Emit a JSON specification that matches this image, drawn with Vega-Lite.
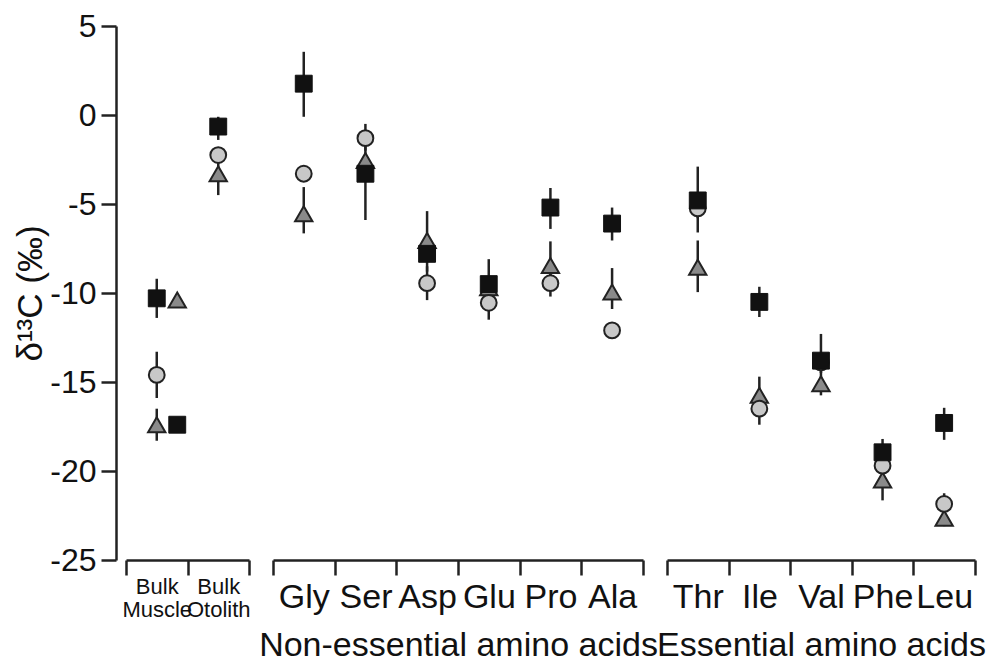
{
  "$schema": "https://vega.github.io/schema/vega-lite/v6.json",
  "padding": {"left": 13, "top": 10, "right": 5, "bottom": 5},
  "bounds": "flush",
  "spacing": 24,
  "background": "white",
  "config": {
    "view": {"stroke": null},
    "font": "Liberation Sans",
    "axis": {"labelFont": "Liberation Sans", "titleFont": "Liberation Sans", "labelColor": "#111", "titleColor": "#111", "domainColor": "#222", "tickColor": "#222", "titleFontWeight": "normal", "grid": false, "domainWidth": 2.5, "tickWidth": 2.5}
  },
  "data": {"values": [
    {"g": "a", "cat": "Bulk Muscle", "s": "sq", "slot": "c", "v": -10.3, "lo": -11.4, "hi": -9.2},
    {"g": "a", "cat": "Bulk Muscle", "s": "tr", "slot": "r", "v": -10.4, "lo": null, "hi": null},
    {"g": "a", "cat": "Bulk Muscle", "s": "ci", "slot": "c", "v": -14.6, "lo": -15.9, "hi": -13.3},
    {"g": "a", "cat": "Bulk Muscle", "s": "tr", "slot": "c", "v": -17.4, "lo": -18.3, "hi": -16.5},
    {"g": "a", "cat": "Bulk Muscle", "s": "sq", "slot": "r", "v": -17.4, "lo": null, "hi": null},
    {"g": "a", "cat": "Bulk Otolith", "s": "sq", "slot": "c", "v": -0.65, "lo": -1.4, "hi": -0.1},
    {"g": "a", "cat": "Bulk Otolith", "s": "ci", "slot": "c", "v": -2.25, "lo": null, "hi": null},
    {"g": "a", "cat": "Bulk Otolith", "s": "tr", "slot": "c", "v": -3.3, "lo": -4.5, "hi": -2.6},
    {"g": "b", "cat": "Gly", "s": "sq", "slot": "c", "v": 1.76, "lo": -0.1, "hi": 3.55},
    {"g": "b", "cat": "Gly", "s": "ci", "slot": "c", "v": -3.3, "lo": null, "hi": null},
    {"g": "b", "cat": "Gly", "s": "tr", "slot": "c", "v": -5.55, "lo": -6.65, "hi": -4.05},
    {"g": "b", "cat": "Ser", "s": "ci", "slot": "c", "v": -1.3, "lo": -2.0, "hi": -0.5},
    {"g": "b", "cat": "Ser", "s": "tr", "slot": "c", "v": -2.55, "lo": null, "hi": null},
    {"g": "b", "cat": "Ser", "s": "sq", "slot": "c", "v": -3.3, "lo": -5.9, "hi": -1.5},
    {"g": "b", "cat": "Asp", "s": "tr", "slot": "c", "v": -7.05, "lo": -8.0, "hi": -5.4},
    {"g": "b", "cat": "Asp", "s": "sq", "slot": "c", "v": -7.8, "lo": -8.8, "hi": -6.8},
    {"g": "b", "cat": "Asp", "s": "ci", "slot": "c", "v": -9.45, "lo": -10.4, "hi": -8.5},
    {"g": "b", "cat": "Glu", "s": "sq", "slot": "c", "v": -9.5, "lo": -10.5, "hi": -8.1},
    {"g": "b", "cat": "Glu", "s": "ci", "slot": "c", "v": -10.55, "lo": -11.5, "hi": -9.6},
    {"g": "b", "cat": "Glu", "s": "tr", "slot": "c", "v": -9.7, "lo": null, "hi": null},
    {"g": "b", "cat": "Pro", "s": "sq", "slot": "c", "v": -5.2, "lo": -6.4, "hi": -4.1},
    {"g": "b", "cat": "Pro", "s": "tr", "slot": "c", "v": -8.45, "lo": -9.2, "hi": -7.1},
    {"g": "b", "cat": "Pro", "s": "ci", "slot": "c", "v": -9.45, "lo": -10.2, "hi": -8.7},
    {"g": "b", "cat": "Ala", "s": "sq", "slot": "c", "v": -6.1, "lo": -7.05, "hi": -5.2},
    {"g": "b", "cat": "Ala", "s": "tr", "slot": "c", "v": -9.95, "lo": -10.9, "hi": -8.6},
    {"g": "b", "cat": "Ala", "s": "ci", "slot": "c", "v": -12.1, "lo": null, "hi": null},
    {"g": "c", "cat": "Thr", "s": "sq", "slot": "c", "v": -4.8, "lo": -5.8, "hi": -2.9},
    {"g": "c", "cat": "Thr", "s": "ci", "slot": "c", "v": -5.25, "lo": -6.6, "hi": -4.5},
    {"g": "c", "cat": "Thr", "s": "tr", "slot": "c", "v": -8.55, "lo": -9.95, "hi": -7.05},
    {"g": "c", "cat": "Ile", "s": "sq", "slot": "c", "v": -10.5, "lo": -11.35, "hi": -9.65},
    {"g": "c", "cat": "Ile", "s": "tr", "slot": "c", "v": -15.75, "lo": -16.5, "hi": -14.7},
    {"g": "c", "cat": "Ile", "s": "ci", "slot": "c", "v": -16.5, "lo": -17.4, "hi": -15.8},
    {"g": "c", "cat": "Val", "s": "sq", "slot": "c", "v": -13.8, "lo": -14.5, "hi": -12.3},
    {"g": "c", "cat": "Val", "s": "ci", "slot": "c", "v": -13.9, "lo": null, "hi": null},
    {"g": "c", "cat": "Val", "s": "tr", "slot": "c", "v": -15.1, "lo": -15.75, "hi": -14.3},
    {"g": "c", "cat": "Phe", "s": "sq", "slot": "c", "v": -18.95, "lo": -19.6, "hi": -18.2},
    {"g": "c", "cat": "Phe", "s": "ci", "slot": "c", "v": -19.7, "lo": -20.4, "hi": -19.0},
    {"g": "c", "cat": "Phe", "s": "tr", "slot": "c", "v": -20.5, "lo": -21.65, "hi": -19.8},
    {"g": "c", "cat": "Leu", "s": "sq", "slot": "c", "v": -17.3, "lo": -18.25, "hi": -16.45},
    {"g": "c", "cat": "Leu", "s": "ci", "slot": "c", "v": -21.85, "lo": -22.3, "hi": -21.25},
    {"g": "c", "cat": "Leu", "s": "tr", "slot": "c", "v": -22.65, "lo": -23.1, "hi": -22.2}
  ]},
  "hconcat": [
    {
      "width": 123, "height": 534,
      "transform": [{"filter": "datum.g == 'a'"}],
      "encoding": {
        "x": {"field": "cat", "type": "nominal", "sort": ["Bulk Muscle", "Bulk Otolith"], "scale": {"paddingInner": 0, "paddingOuter": 0},
          "axis": {"title": null, "labelExpr": "split(datum.label, ' ')", "labelFontSize": 22, "labelLineHeight": 23, "tickSize": 15, "tickBand": "extent", "labelAngle": 0, "labelPadding": 1, "labelOverlap": false, "labelBound": false}},
        "xOffset": {"field": "slot", "type": "nominal", "scale": {"domain": ["l", "c", "r"], "paddingInner": 0, "paddingOuter": 0}},
        "y": {"field": "v", "type": "quantitative", "scale": {"domain": [-25, 5], "nice": false, "zero": false},
          "axis": {"title": "δ¹³C (‰)", "values": [-25, -20, -15, -10, -5, 0, 5], "labelExpr": "'' + datum.value", "offset": 10, "tickSize": 15, "labelFontSize": 32, "labelPadding": 5, "titleFontSize": 35, "titlePadding": 1}}
      },
      "layer": [
        {"transform": [{"filter": "isValid(datum.lo)"}], "mark": {"type": "rule", "strokeWidth": 2.5, "color": "#222"}, "encoding": {"y": {"field": "lo", "type": "quantitative"}, "y2": {"field": "hi"}}},
        {"transform": [{"filter": "datum.s == 'tr'"}], "mark": {"type": "point", "shape": "triangle-up", "filled": true, "fill": "#8a8a8a", "stroke": "#222", "strokeWidth": 2, "size": 300, "opacity": 1}},
        {"transform": [{"filter": "datum.s == 'ci'"}], "mark": {"type": "point", "shape": "circle", "filled": true, "fill": "#c8c8c8", "stroke": "#222", "strokeWidth": 2, "size": 250, "opacity": 1}},
        {"transform": [{"filter": "datum.s == 'sq'"}], "mark": {"type": "point", "shape": "square", "filled": true, "fill": "#111", "stroke": "#111", "strokeWidth": 1, "size": 285, "opacity": 1}}
      ]
    },
    {
      "width": 370, "height": 534,
      "transform": [{"filter": "datum.g == 'b'"}],
      "encoding": {
        "x": {"field": "cat", "type": "nominal", "sort": ["Gly", "Ser", "Asp", "Glu", "Pro", "Ala"], "scale": {"paddingInner": 0, "paddingOuter": 0},
          "axis": {"title": "Non-essential amino acids", "titleFontSize": 34, "titlePadding": 14, "labelFontSize": 34, "tickSize": 15, "tickBand": "extent", "labelAngle": 0, "labelPadding": 5, "labelOverlap": false, "labelBound": false}},
        "xOffset": {"field": "slot", "type": "nominal", "scale": {"domain": ["l", "c", "r"], "paddingInner": 0, "paddingOuter": 0}},
        "y": {"field": "v", "type": "quantitative", "scale": {"domain": [-25, 5], "nice": false, "zero": false}, "axis": null}
      },
      "layer": [
        {"transform": [{"filter": "isValid(datum.lo)"}], "mark": {"type": "rule", "strokeWidth": 2.5, "color": "#222"}, "encoding": {"y": {"field": "lo", "type": "quantitative", "axis": null}, "y2": {"field": "hi"}}},
        {"transform": [{"filter": "datum.s == 'tr'"}], "mark": {"type": "point", "shape": "triangle-up", "filled": true, "fill": "#8a8a8a", "stroke": "#222", "strokeWidth": 2, "size": 300, "opacity": 1}},
        {"transform": [{"filter": "datum.s == 'ci'"}], "mark": {"type": "point", "shape": "circle", "filled": true, "fill": "#c8c8c8", "stroke": "#222", "strokeWidth": 2, "size": 250, "opacity": 1}},
        {"transform": [{"filter": "datum.s == 'sq'"}], "mark": {"type": "point", "shape": "square", "filled": true, "fill": "#111", "stroke": "#111", "strokeWidth": 1, "size": 285, "opacity": 1}}
      ]
    },
    {
      "width": 308, "height": 534,
      "transform": [{"filter": "datum.g == 'c'"}],
      "encoding": {
        "x": {"field": "cat", "type": "nominal", "sort": ["Thr", "Ile", "Val", "Phe", "Leu"], "scale": {"paddingInner": 0, "paddingOuter": 0},
          "axis": {"title": "Essential amino acids", "titleFontSize": 34, "titlePadding": 14, "labelFontSize": 34, "tickSize": 15, "tickBand": "extent", "labelAngle": 0, "labelPadding": 5, "labelOverlap": false, "labelBound": false}},
        "xOffset": {"field": "slot", "type": "nominal", "scale": {"domain": ["l", "c", "r"], "paddingInner": 0, "paddingOuter": 0}},
        "y": {"field": "v", "type": "quantitative", "scale": {"domain": [-25, 5], "nice": false, "zero": false}, "axis": null}
      },
      "layer": [
        {"transform": [{"filter": "isValid(datum.lo)"}], "mark": {"type": "rule", "strokeWidth": 2.5, "color": "#222"}, "encoding": {"y": {"field": "lo", "type": "quantitative", "axis": null}, "y2": {"field": "hi"}}},
        {"transform": [{"filter": "datum.s == 'tr'"}], "mark": {"type": "point", "shape": "triangle-up", "filled": true, "fill": "#8a8a8a", "stroke": "#222", "strokeWidth": 2, "size": 300, "opacity": 1}},
        {"transform": [{"filter": "datum.s == 'ci'"}], "mark": {"type": "point", "shape": "circle", "filled": true, "fill": "#c8c8c8", "stroke": "#222", "strokeWidth": 2, "size": 250, "opacity": 1}},
        {"transform": [{"filter": "datum.s == 'sq'"}], "mark": {"type": "point", "shape": "square", "filled": true, "fill": "#111", "stroke": "#111", "strokeWidth": 1, "size": 285, "opacity": 1}}
      ]
    }
  ]
}
